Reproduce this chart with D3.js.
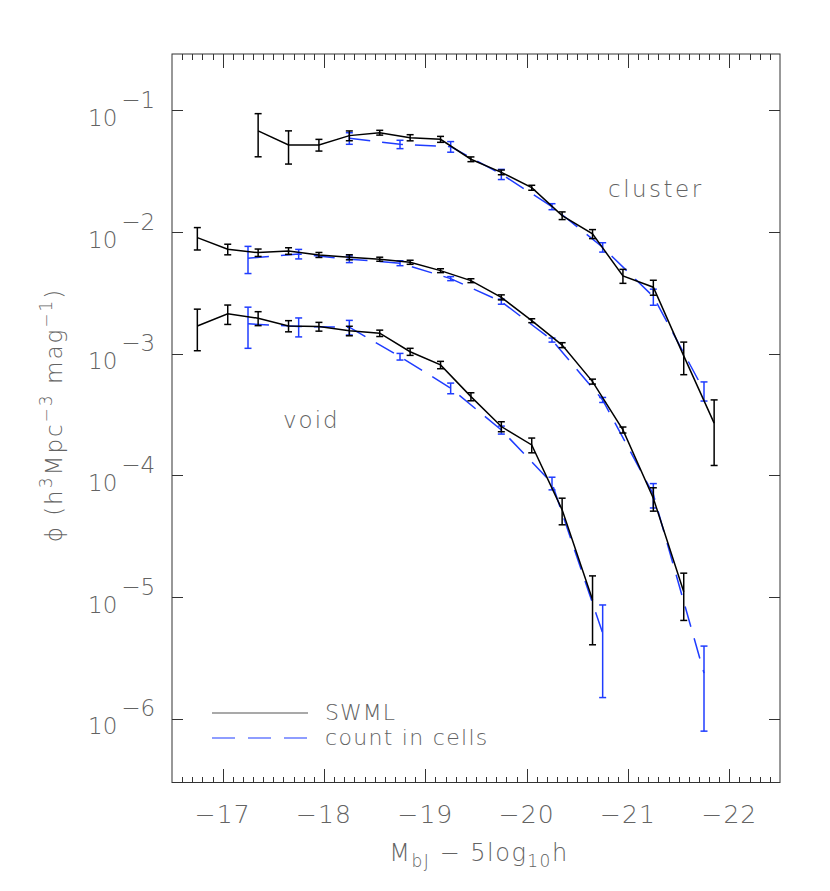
<!DOCTYPE html>
<html>
<head>
<meta charset="utf-8">
<script src="https://cdn.jsdelivr.net/npm/d3@7"></script>
<style>
  html, body { margin: 0; padding: 0; background: #fff; }
  svg text { font-family: "DejaVu Sans", sans-serif; font-weight: 200; fill: #636363; }
</style>
</head>
<body>
<svg id="chart" width="830" height="891"></svg>
<script>
// ---------- data ----------
const swmlClusterMag = [-17.35,-17.65,-17.95,-18.25,-18.55,-18.85,-19.15,-19.45,-19.75,-20.05,-20.35,-20.65,-20.95,-21.25,-21.55,-21.85];
const swmlClusterPhi = [0.0685,0.0526,0.0526,0.0627,0.0663,0.0603,0.0585,0.0401,0.0313,0.0234,0.0138,0.00976,0.00441,0.00356,0.00097,0.000272];
const swmlClusterErr = [0.0265,0.016,0.0058,0.0058,0.003,0.0035,0.0033,0.0018,0.0014,0.0011,0.001,0.00083,0.00058,0.0005,0.00029,0.00015];

const swmlAllMag = [-16.75,-17.05,-17.35,-17.65,-17.95,-18.25,-18.55,-18.85,-19.15,-19.45,-19.75,-20.05,-20.35,-20.65,-20.95,-21.25,-21.55];
const swmlAllPhi = [0.0091,0.0073,0.00685,0.00707,0.00656,0.00628,0.00605,0.00571,0.00487,0.00403,0.00294,0.00189,0.00119,0.000597,0.000239,0.0000657,0.0000112];
const swmlAllErr = [0.0019,0.00073,0.00048,0.00044,0.00031,0.0003,0.00023,0.00022,0.00018,0.00015,0.00014,0.00007,0.000056,0.000028,0.0000136,0.0000143,0.0000047];

const swmlVoidMag = [-16.75,-17.05,-17.35,-17.65,-17.95,-18.25,-18.55,-18.85,-19.15,-19.45,-19.75,-20.05,-20.35,-20.65];
const swmlVoidPhi = [0.00171,0.00215,0.00198,0.00171,0.00169,0.00156,0.00149,0.00105,0.000818,0.000449,0.000255,0.00018,0.0000527,0.0000096];
const swmlVoidErr = [0.00064,0.00039,0.00026,0.00018,0.00014,0.00014,0.00009,0.00007,0.000057,0.000034,0.000024,0.000025,0.000013,0.0000055];

const cicClusterMag = [-18.25,-18.75,-19.25,-19.75,-20.25,-20.75,-21.25,-21.75];
const cicClusterPhi = [0.0597,0.0532,0.0509,0.0302,0.01636,0.00759,0.00298,0.000503];
const cicClusterErr = [0.0065,0.0042,0.0051,0.0029,0.00093,0.00067,0.00045,0.00009];

const cicAllMag = [-17.25,-17.75,-18.25,-18.75,-19.25,-19.75,-20.25,-20.75,-21.25,-21.75];
const cicAllPhi = [0.00616,0.00668,0.00605,0.00561,0.00419,0.00271,0.00131,0.000422,0.0000706,0.0000024];
const cicAllErr = [0.00155,0.0006,0.00038,0.00026,0.00016,0.00013,0.00005,0.00002,0.000016,0.0000016];

const cicVoidMag = [-17.25,-17.75,-18.25,-18.75,-19.25,-19.75,-20.25,-20.75];
const cicVoidPhi = [0.00178,0.00169,0.00167,0.000957,0.000527,0.000239,0.0000873,0.00000511];
const cicVoidErr = [0.00066,0.0003,0.00023,0.00006,0.000053,0.000018,0.0000104,0.0000036];

const xTickValues = [-17,-18,-19,-20,-21,-22];
const xMinorTickValues = [-16.6,-16.7,-16.8,-16.9,-17.1,-17.2,-17.3,-17.4,-17.5,-17.6,-17.7,-17.8,-17.9,
  -18.1,-18.2,-18.3,-18.4,-18.5,-18.6,-18.7,-18.8,-18.9,-19.1,-19.2,-19.3,-19.4,-19.5,-19.6,-19.7,-19.8,-19.9,
  -20.1,-20.2,-20.3,-20.4,-20.5,-20.6,-20.7,-20.8,-20.9,-21.1,-21.2,-21.3,-21.4,-21.5,-21.6,-21.7,-21.8,-21.9,
  -22.1,-22.2,-22.3,-22.4];
const xTickLabels = ["\u221217","\u221218","\u221219","\u221220","\u221221","\u221222"];
const yTickValues = [1e-1,1e-2,1e-3,1e-4,1e-5,1e-6];
const yTickExponents = ["\u22121","\u22122","\u22123","\u22124","\u22125","\u22126"];
const legendLabels = ["SWML", "count in cells"];
const sampleLabels = ["cluster", "void"];

// ---------- layout ----------
const L = 172, R = 780, T = 54, B = 782.5;
const svg = d3.select("#chart");
const x = d3.scaleLinear().domain([-16.5, -22.5]).range([L, R]);
const y = d3.scaleLog().domain([Math.pow(10,-6.519), Math.pow(10,-0.532)]).range([B, T]);

const frameColor = "#333";
const blue = "#1f3cff";

// ticks (inward on all four sides), positioned by the scales
const tickG = svg.append("g").attr("stroke", frameColor).attr("stroke-width", 1).attr("shape-rendering", "crispEdges");
function xTicks(values, len) {
  tickG.selectAll(null).data(values).join("line")
    .attr("x1", d => Math.round(x(d)) + 0.5).attr("x2", d => Math.round(x(d)) + 0.5)
    .attr("y1", B).attr("y2", B - len);
  tickG.selectAll(null).data(values).join("line")
    .attr("x1", d => Math.round(x(d)) + 0.5).attr("x2", d => Math.round(x(d)) + 0.5)
    .attr("y1", T).attr("y2", T + len);
}
xTicks(xTickValues, 14);
xTicks(xMinorTickValues, 6);
tickG.selectAll(null).data(yTickValues).join("line")
  .attr("x1", L).attr("x2", L + 11).attr("y1", d => y(d)).attr("y2", d => y(d));
tickG.selectAll(null).data(yTickValues).join("line")
  .attr("x1", R).attr("x2", R - 11).attr("y1", d => y(d)).attr("y2", d => y(d));

svg.append("rect").attr("x", L).attr("y", T).attr("width", R - L).attr("height", B - T)
  .attr("fill", "none").attr("stroke", frameColor).attr("stroke-width", 1);

// tick labels
svg.append("g").selectAll("text").data(xTickValues).join("text")
  .attr("x", d => x(d)).attr("y", 823).attr("text-anchor", "middle")
  .style("font-size", "25px").style("letter-spacing", "1px")
  .text((d, i) => xTickLabels[i]);

const yl = svg.append("g").selectAll("text").data(yTickValues).join("text")
  .attr("x", 88).attr("y", d => y(d) + 15).style("font-size", "23px");
yl.append("tspan").text("10");
yl.append("tspan").attr("dx", 4).attr("dy", -18).text((d, i) => yTickExponents[i]);

// axis titles
const xt = svg.append("text").attr("x", 479).attr("y", 861).attr("text-anchor", "middle").style("font-size", "24px").style("letter-spacing", "1.5px");
xt.append("tspan").text("M");
xt.append("tspan").attr("dy", 6).style("font-size", "17px").text("bJ");
xt.append("tspan").attr("dy", -6).text(" \u2212 5log");
xt.append("tspan").attr("dy", 6).style("font-size", "17px").text("10");
xt.append("tspan").attr("dy", -6).text("h");

const ytl = svg.append("text").attr("transform", "translate(62,415) rotate(-90)").attr("text-anchor", "middle")
  .style("font-size", "23px").style("letter-spacing", "2px");
ytl.append("tspan").text("\u03D5 (h");
ytl.append("tspan").attr("dy", -10).style("font-size", "17px").text("3");
ytl.append("tspan").attr("dy", 10).text("Mpc");
ytl.append("tspan").attr("dy", -10).style("font-size", "17px").text("\u22123");
ytl.append("tspan").attr("dy", 10).text(" mag");
ytl.append("tspan").attr("dy", -10).style("font-size", "17px").text("\u22121");
ytl.append("tspan").attr("dy", 10).text(")");

// ---------- series ----------
function series(mag, phi, err) { return mag.map((m, i) => ({ m, phi: phi[i], err: err[i] })); }
const line = d3.line().x(d => x(d.m)).y(d => y(d.phi));

function drawSeries(data, color, dashed) {
  const g = svg.append("g");
  g.append("path").datum(data).attr("d", line).attr("fill", "none").attr("stroke", color)
    .attr("stroke-width", 1.5).attr("stroke-dasharray", dashed ? "21,12" : null);
  const eb = g.selectAll("g.eb").data(data).join("g").attr("class", "eb")
    .attr("stroke", color).attr("stroke-width", 1.5);
  eb.append("line").attr("x1", d => x(d.m)).attr("x2", d => x(d.m))
    .attr("y1", d => y(d.phi + d.err)).attr("y2", d => y(d.phi - d.err));
  eb.append("line").attr("x1", d => x(d.m) - 3.5).attr("x2", d => x(d.m) + 3.5)
    .attr("y1", d => y(d.phi + d.err)).attr("y2", d => y(d.phi + d.err));
  eb.append("line").attr("x1", d => x(d.m) - 3.5).attr("x2", d => x(d.m) + 3.5)
    .attr("y1", d => y(d.phi - d.err)).attr("y2", d => y(d.phi - d.err));
}

drawSeries(series(cicClusterMag, cicClusterPhi, cicClusterErr), blue, true);
drawSeries(series(cicAllMag, cicAllPhi, cicAllErr), blue, true);
drawSeries(series(cicVoidMag, cicVoidPhi, cicVoidErr), blue, true);
drawSeries(series(swmlClusterMag, swmlClusterPhi, swmlClusterErr), "#000", false);
drawSeries(series(swmlAllMag, swmlAllPhi, swmlAllErr), "#000", false);
drawSeries(series(swmlVoidMag, swmlVoidPhi, swmlVoidErr), "#000", false);

// sample labels
svg.append("text").attr("x", 608).attr("y", 197).style("font-size", "23px").style("letter-spacing", "2.5px").text(sampleLabels[0]);
svg.append("text").attr("x", 283).attr("y", 428).style("font-size", "23px").style("letter-spacing", "2px").text(sampleLabels[1]);

// legend
svg.append("line").attr("x1", 212).attr("x2", 308).attr("y1", 713).attr("y2", 713).attr("stroke", "#555").attr("stroke-width", 1.2);
svg.append("line").attr("x1", 212).attr("x2", 308).attr("y1", 738).attr("y2", 738).attr("stroke", blue).attr("stroke-width", 1.2).attr("stroke-dasharray", "23,13");
svg.append("text").attr("x", 325).attr("y", 720).style("font-size", "22px").style("letter-spacing", "1px").text(legendLabels[0]);
svg.append("text").attr("x", 325).attr("y", 745).style("font-size", "22px").style("letter-spacing", "1.3px").text(legendLabels[1]);
</script>
</body>
</html>
